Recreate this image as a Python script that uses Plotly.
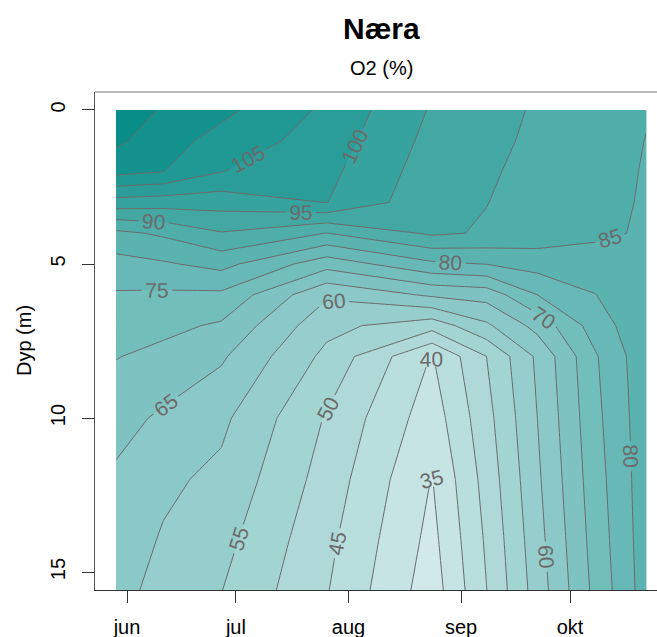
import plotly.graph_objects as go

# Sampling dates (x) and depths (y, metres)
dates = ["2023-05-29", "2023-06-11", "2023-06-27", "2023-07-26", "2023-08-24",
         "2023-09-08", "2023-09-22", "2023-10-08", "2023-10-17", "2023-10-22"]
depths = [0, 1, 2, 3, 4, 5, 6, 7, 8, 10, 12, 14, 15.6]

# O2 saturation (%) per depth row (top to bottom), one value per date
o2_d0    = [118.0, 114.5, 111.3, 104.0, 94.5, 92.0, 89.4, 87.1, 86.0, 85.3]
o2_d1    = [116.0, 112.2, 108.1, 102.7, 93.5, 91.2, 89.1, 86.8, 85.7, 84.9]
o2_d2    = [111.5, 110.1, 105.1, 101.3, 92.5, 90.6, 88.6, 86.4, 85.4, 84.7]
o2_d3    = [97.9, 97.3, 97.1, 100.1, 91.5, 90.1, 88.2, 86.2, 85.2, 84.6]
o2_d4    = [83.8, 85.8, 89.7, 84.9, 90.8, 89.5, 87.9, 86.0, 84.95, 84.5]
o2_d5    = [78.1, 79.4, 81.6, 72.0, 79.0, 80.1, 82.1, 82.6, 84.2, 84.4]
o2_d6    = [74.5, 74.2, 74.0, 60.7, 65.8, 67.0, 75.0, 79.9, 83.0, 84.3]
o2_d7    = [72.3, 71.3, 69.3, 56.5, 52.0, 59.1, 66.7, 77.4, 81.6, 84.1]
o2_d8    = [70.2, 68.6, 65.7, 53.7, 39.7, 50.0, 60.9, 74.5, 80.3, 84.0]
o2_d10   = [66.7, 64.2, 61.1, 49.55, 37.3, 48.3, 60.0, 73.7, 79.7, 83.6]
o2_d12   = [64.2, 61.0, 58.8, 47.9, 34.8, 46.9, 59.1, 72.9, 79.2, 83.3]
o2_d14   = [62.7, 59.5, 56.6, 46.3, 33.5, 45.7, 58.1, 72.1, 78.8, 82.9]
o2_d15_6 = [61.5, 58.5, 55.1, 45.3, 32.4, 44.9, 57.3, 71.4, 78.4, 82.6]

month_ticks = ["2023-06-01", "2023-07-01", "2023-08-01", "2023-09-01", "2023-10-01"]
month_labels = ["jun", "jul", "aug", "sep", "okt"]
depth_ticks = [0, 5, 10, 15]

o2 = [o2_d0, o2_d1, o2_d2, o2_d3, o2_d4, o2_d5, o2_d6, o2_d7, o2_d8,
      o2_d10, o2_d12, o2_d14, o2_d15_6]

FONT = "Liberation Sans, Arial, sans-serif"
LINE_GREY = "#6b6b6b"

fig = go.Figure(go.Contour(
    x=dates, y=depths, z=o2,
    zmin=30, zmax=120,
    autocontour=False,
    contours=dict(start=30, end=120, size=5, coloring="fill",
                  showlabels=True,
                  labelfont=dict(family=FONT, size=21, color=LINE_GREY)),
    colorscale=[[0, "rgb(215,236,236)"], [1, "rgb(2,138,133)"]],
    line=dict(color=LINE_GREY, width=1, smoothing=0),
    showscale=False,
    hoverinfo="skip",
))

fig.update_layout(
    width=657, height=637,
    margin=dict(l=95, r=0, t=92, b=47),
    paper_bgcolor="white", plot_bgcolor="white",
    font=dict(family=FONT, size=20, color="black"),
    showlegend=False,
    xaxis=dict(type="date", range=["2023-05-23 04:30", "2023-10-24 23:00"],
               tickmode="array", tickvals=month_ticks, ticktext=month_labels,
               ticks="outside", ticklen=12, tickcolor="#333", tickwidth=1,
               showline=True, linecolor="#333", linewidth=1,
               showgrid=False, zeroline=False,
               tickfont=dict(family=FONT, size=20, color="black"),
               ticklabelstandoff=7),
    yaxis=dict(range=[15.584, -0.584],
               tickmode="array", tickvals=depth_ticks,
               ticks="outside", ticklen=12, tickcolor="#333", tickwidth=1,
               showline=True, linecolor="#555", linewidth=1,
               showgrid=False, zeroline=False, tickangle=-90,
               tickfont=dict(family=FONT, size=20, color="black"),
               ticklabelstandoff=9),
    shapes=[dict(type="line", xref="paper", yref="paper", x0=0, x1=1, y0=1, y1=1,
                 line=dict(color="#777", width=1))],
    annotations=[
        dict(text="<b>Næra</b>", xref="paper", yref="paper", x=0.509, y=1.1285,
             xanchor="center", yanchor="middle", showarrow=False,
             font=dict(family=FONT, size=30, color="black")),
        dict(text="O2 (%)", xref="paper", yref="paper", x=0.509, y=1.048,
             xanchor="center", yanchor="middle", showarrow=False,
             font=dict(family=FONT, size=20, color="black")),
        dict(text="Dyp (m)", xref="paper", yref="paper", x=-0.1263, y=0.5,
             xanchor="center", yanchor="middle", showarrow=False, textangle=-90,
             font=dict(family=FONT, size=20, color="black")),
    ],
)

fig.write_html("out.html")
